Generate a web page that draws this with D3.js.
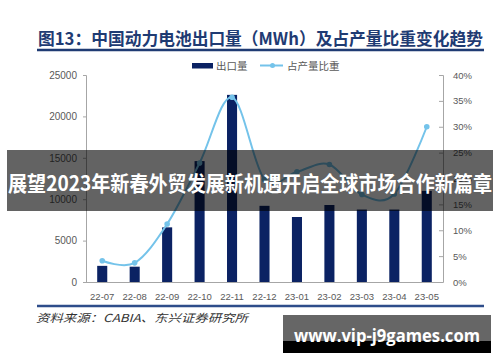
<!DOCTYPE html>
<html><head><meta charset="utf-8">
<script src="https://cdn.jsdelivr.net/npm/d3@7/dist/d3.min.js"></script>
<style>html,body{margin:0;padding:0;background:#fff;}svg{display:block;}</style>
</head><body>
<script>
const categories = ['22-07','22-08','22-09','22-10','22-11','22-12','23-01','23-02','23-03','23-04','23-05'];
const exportVolume = [1950, 1850, 6600, 14600, 22600, 9200, 7850, 9300, 8750, 8750, 11000];
const shareOfOutput = [4.1, 3.7, 11.2, 23.0, 35.7, 19.8, 21.3, 22.7, 16.9, 17.0, 30.0];
const leftTicks = [0, 5000, 10000, 15000, 20000, 25000];
const rightTicks = [0, 5, 10, 15, 20, 25, 30, 35, 40];
const titleText = '图13：中国动力电池出口量（MWh）及占产量比重变化趋势';
const legendLabels = ['出口量', '占产量比重'];
const sourceText = '资料来源：CABIA、东兴证券研究所';
const bannerText = '展望2023年新春外贸发展新机遇开启全球市场合作新篇章';
const watermarkText = 'www.vip-j9games.com';

const W = 500, H = 362;
const svg = d3.select('body').append('svg').attr('width', W).attr('height', H);
const navy = '#0b2263', sky = '#74c3ea', grey = '#595959', axisGrey = '#a6a6a6';
const cjk = '"Noto Sans CJK SC", "Noto Sans", sans-serif';
const lat = '"Liberation Sans", Arial, sans-serif';

// Title
svg.append('text').attr('x', 38).attr('y', 45).attr('textLength', 445).attr('lengthAdjust', 'spacingAndGlyphs')
  .attr('font-family', cjk).attr('font-weight', 700).attr('font-size', 17).attr('fill', '#1f3b73').text(titleText);
svg.append('line').attr('x1', 37).attr('x2', 484).attr('y1', 50).attr('y2', 50).attr('stroke', '#1f3b73').attr('stroke-width', 2.5);

// Scales
const x = d3.scaleBand().domain(categories).range([86, 443]).paddingInner(0.69).paddingOuter(0.345);
const yL = d3.scaleLinear().domain([0, 25000]).range([282, 75]);
const yR = d3.scaleLinear().domain([0, 40]).range([282, 75]);

// Bars
svg.append('g').selectAll('rect').data(categories).join('rect')
  .attr('x', d => x(d)).attr('width', x.bandwidth())
  .attr('y', (d, i) => yL(exportVolume[i])).attr('height', (d, i) => yL(0) - yL(exportVolume[i]))
  .attr('fill', navy);

// Axes
const gL = svg.append('g').attr('transform', 'translate(86,0)')
  .call(d3.axisLeft(yL).tickValues(leftTicks).tickSize(3).tickPadding(6).tickFormat(d3.format('d')));
const gR = svg.append('g').attr('transform', 'translate(443,0)')
  .call(d3.axisRight(yR).tickValues(rightTicks).tickSize(-4).tickPadding(10).tickFormat(d => d + '%'));
const gX = svg.append('g').attr('transform', 'translate(0,282)')
  .call(d3.axisBottom(x).tickSize(0).tickPadding(11));
[gL, gR, gX].forEach(g => {
  g.selectAll('path.domain').attr('stroke', axisGrey);
  g.selectAll('.tick line').attr('stroke', axisGrey);
  g.selectAll('text').attr('fill', grey).attr('font-family', lat).attr('font-size', 10);
});
gX.selectAll('text').attr('font-size', 9.5);
gR.selectAll('text').attr('font-size', 9.5);
gX.select('path.domain').attr('d', 'M86,0.5H443');

// Line
const cx = d => x(d) + x.bandwidth() / 2;
const line = d3.line().x((d, i) => cx(categories[i])).y(d => yR(d)).curve(d3.curveCatmullRom.alpha(0));
svg.append('path').datum(shareOfOutput).attr('d', line).attr('fill', 'none').attr('stroke', sky).attr('stroke-width', 2);
svg.append('g').selectAll('circle').data(shareOfOutput).join('circle')
  .attr('cx', (d, i) => cx(categories[i])).attr('cy', d => yR(d)).attr('r', 2.8).attr('fill', sky);

// Legend
const lg = svg.append('g');
lg.append('rect').attr('x', 192).attr('y', 63).attr('width', 21).attr('height', 5.5).attr('fill', navy);
lg.append('text').attr('x', 216).attr('y', 69.5).attr('font-family', cjk).attr('font-size', 10.5).attr('fill', grey).text(legendLabels[0]);
lg.append('line').attr('x1', 260).attr('x2', 283).attr('y1', 65.5).attr('y2', 65.5).attr('stroke', sky).attr('stroke-width', 2);
lg.append('circle').attr('cx', 272.5).attr('cy', 65.5).attr('r', 2.5).attr('fill', sky);
lg.append('text').attr('x', 287).attr('y', 69.5).attr('font-family', cjk).attr('font-size', 10.5).attr('fill', grey).text(legendLabels[1]);

// Bottom rule & source
svg.append('line').attr('x1', 37).attr('x2', 484).attr('y1', 306).attr('y2', 306).attr('stroke', '#2e4d8a').attr('stroke-width', 2.5);
svg.append('text').attr('x', 36).attr('y', 321.5).attr('textLength', 212).attr('lengthAdjust', 'spacingAndGlyphs')
  .attr('font-family', cjk).attr('font-style', 'italic').attr('font-size', 11).attr('fill', '#333').text(sourceText);

// Banner overlay
svg.append('rect').attr('x', 7).attr('y', 150).attr('width', 486).attr('height', 61).attr('fill', '#000').attr('fill-opacity', 0.61);
svg.append('text').attr('x', 250).attr('y', 182).attr('text-anchor', 'middle').attr('dominant-baseline', 'central')
  .attr('textLength', 484).attr('lengthAdjust', 'spacingAndGlyphs')
  .attr('font-family', cjk).attr('font-weight', 700).attr('font-size', 21).attr('fill', '#fff').text(bannerText);

// Watermark
svg.append('rect').attr('x', 283).attr('y', 315).attr('width', 208).attr('height', 27).attr('fill', '#666');
svg.append('rect').attr('x', 283).attr('y', 341).attr('width', 208).attr('height', 12).attr('fill', '#000');
svg.append('text').attr('x', 387).attr('y', 342).attr('text-anchor', 'middle')
  .attr('textLength', 186).attr('lengthAdjust', 'spacingAndGlyphs')
  .attr('font-family', '"Open Sans", "DejaVu Sans", sans-serif').attr('font-weight', 700).attr('font-size', 18).attr('fill', '#fff').text(watermarkText);
</script>
</body></html>
